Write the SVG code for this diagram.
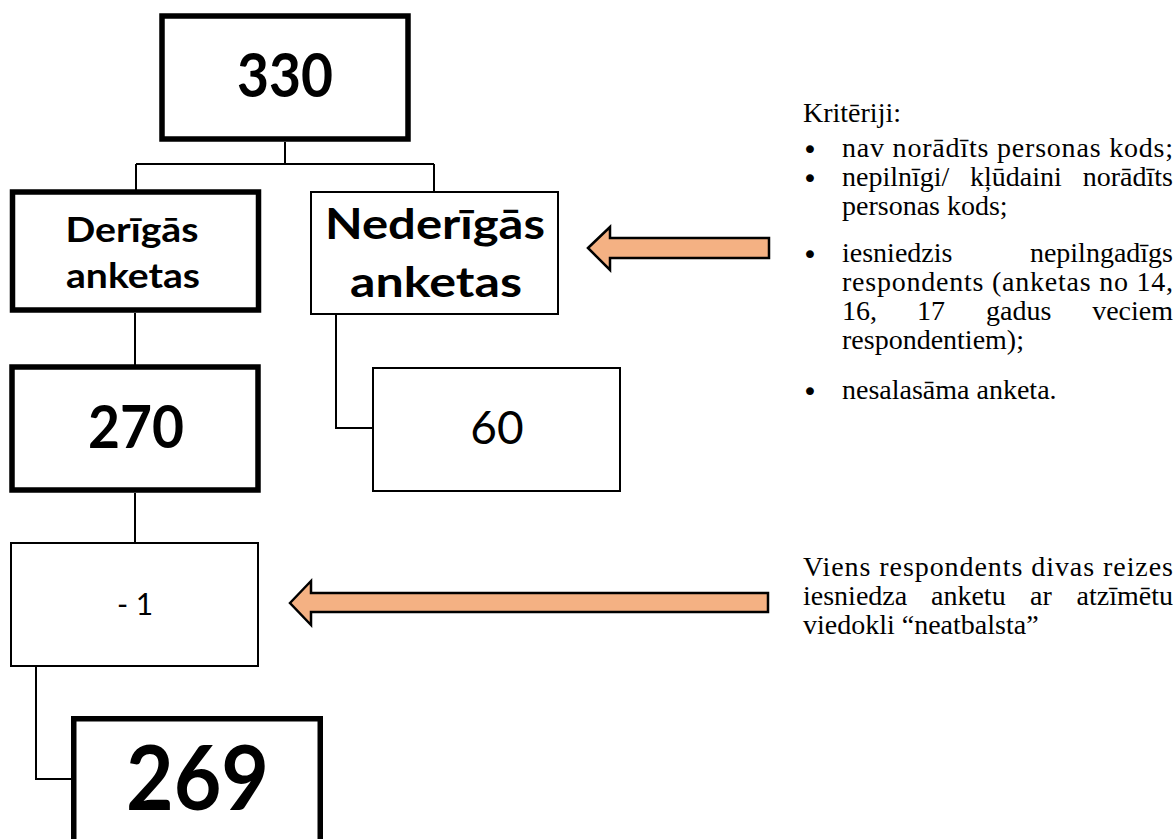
<svg xmlns="http://www.w3.org/2000/svg" width="1176" height="839" viewBox="0 0 1176 839">
<style>
.thick{fill:#fff;stroke:#000;stroke-width:5.5}
.thin{fill:#fff;stroke:#000;stroke-width:2}
.lbl{font-family:Lato,"Open Sans","Liberation Sans",sans-serif;fill:#000;text-anchor:middle}
.b{font-weight:bold}
.conn{fill:none;stroke:#000;stroke-width:2}
.arrow{fill:#F4B183;stroke:#000;stroke-width:2.5;stroke-linejoin:miter}
.txt{font-family:"Liberation Serif","Times New Roman",serif;font-size:28px;fill:#000}
.bul{font-family:"DejaVu Sans","Liberation Sans",sans-serif;font-size:27px;fill:#000;text-anchor:middle}
</style>
<rect width="1176" height="839" fill="#fff"/>
<g id="connectors">
<path class="conn" d="M285,142 V164 M136,164 H434 M136,164 V190 M434,164 V192"/>
<path class="conn" d="M135,313 V365"/>
<path class="conn" d="M336,315 V428 H373"/>
<path class="conn" d="M135,493 V543"/>
<path class="conn" d="M36,666 V779 H72"/>
</g>
<g id="n330">
<rect class="thick" x="162" y="16" width="246" height="123"/>
<text class="lbl b" x="285" y="97" font-size="62" textLength="96" lengthAdjust="spacingAndGlyphs">330</text>
</g>
<g id="nDerigas">
<rect class="thick" x="12.5" y="192" width="246" height="118"/>
<text class="lbl b" x="132" y="242" font-size="35" textLength="133" lengthAdjust="spacingAndGlyphs">Derīgās</text>
<text class="lbl b" x="133" y="288" font-size="35" textLength="134" lengthAdjust="spacingAndGlyphs">anketas</text>
</g>
<g id="nNederigas">
<rect class="thin" x="311" y="192" width="247" height="122"/>
<text class="lbl b" x="435" y="239" font-size="42" textLength="220" lengthAdjust="spacingAndGlyphs">Nederīgās</text>
<text class="lbl b" x="436" y="297" font-size="42" textLength="172" lengthAdjust="spacingAndGlyphs">anketas</text>
</g>
<g id="n270">
<rect class="thick" x="12" y="367" width="246" height="123"/>
<text class="lbl b" x="136" y="448" font-size="59" textLength="96" lengthAdjust="spacingAndGlyphs">270</text>
</g>
<g id="n60">
<rect class="thin" x="373" y="368" width="247" height="123"/>
<text class="lbl" x="497" y="444" font-size="46">60</text>
</g>
<g id="nMinus1">
<rect class="thin" x="11" y="543" width="247" height="123"/>
<text class="lbl" x="135" y="615" font-size="30">- 1</text>
</g>
<g id="n269">
<rect class="thick" x="73.75" y="718.75" width="246.5" height="140"/>
<text class="lbl b" x="197.5" y="810" font-size="90" textLength="143" lengthAdjust="spacingAndGlyphs">269</text>
</g>
<g id="arrow1">
<polygon class="arrow" points="588,248 610,227 610,238 769,238 769,258 610,258 610,270"/>
</g>
<g id="arrow2">
<polygon class="arrow" points="290,603 311,581 311,593 768,593 768,612 311,612 311,625"/>
</g>
<g id="criteria">
<text class="txt" x="803" y="122">Kritēriji:</text>
<text class="bul" x="810" y="159">•</text>
<text class="txt" x="842" y="157" textLength="331" lengthAdjust="spacing">nav norādīts personas kods;</text>
<text class="bul" x="810" y="188">•</text>
<text class="txt" y="186"><tspan x="842">nepilnīgi/</tspan><tspan x="970">kļūdaini</tspan></text>
<text class="txt" x="1173" y="186" text-anchor="end">norādīts</text>
<text class="txt" x="842" y="215">personas kods;</text>
<text class="bul" x="810" y="264">•</text>
<text class="txt" x="842" y="262">iesniedzis</text>
<text class="txt" x="1173" y="262" text-anchor="end">nepilngadīgs</text>
<text class="txt" x="842" y="291" textLength="331" lengthAdjust="spacing">respondents (anketas no 14,</text>
<text class="txt" y="320"><tspan x="842">16,</tspan><tspan x="917">17</tspan><tspan x="986">gadus</tspan></text>
<text class="txt" x="1173" y="320" text-anchor="end">veciem</text>
<text class="txt" x="842" y="349">respondentiem);</text>
<text class="bul" x="810" y="401">•</text>
<text class="txt" x="842" y="399">nesalasāma anketa.</text>
</g>
<g id="note">
<text class="txt" x="803" y="576" textLength="370" lengthAdjust="spacing">Viens respondents divas reizes</text>
<text class="txt" y="605"><tspan x="803">iesniedza</tspan><tspan x="931">anketu</tspan><tspan x="1030">ar</tspan></text>
<text class="txt" x="1173" y="605" text-anchor="end">atzīmētu</text>
<text class="txt" x="803" y="634">viedokli “neatbalsta”</text>
</g>
</svg>
